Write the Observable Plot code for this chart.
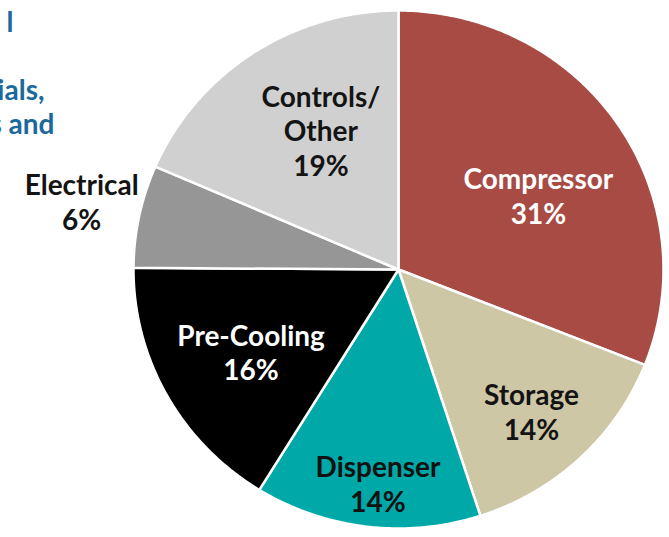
<!DOCTYPE html>
<html><head><meta charset="utf-8">
<script src="https://cdn.jsdelivr.net/npm/d3@7"></script>
<script src="https://cdn.jsdelivr.net/npm/@observablehq/plot@0.6"></script>
<style>html,body{margin:0;padding:0;background:#fff;} #chart{width:669px;height:537px;overflow:hidden;}</style>
</head><body><div id="chart"></div>
<script>
// ---- data ----
const categories = ["Compressor", "Storage", "Dispenser", "Pre-Cooling", "Electrical", "Controls/\nOther"];
const shares = [31, 14, 13.8, 16.3, 6.4, 18.5];
const percentLabels = ["31%", "14%", "14%", "16%", "6%", "19%"];
const headerFragments = ["l", "ials,", "s and"];

// ---- styling / layout ----
const sliceColors = ["#a84b45", "#cec7a6", "#00a8a8", "#000000", "#969696", "#d0d0d0"];
const labelColors = ["#ffffff", "#141414", "#111111", "#ffffff", "#141414", "#141414"];
const labelPlacement = [[0.60, 5.8], [0.743, 0.7], [0.83, -1.5], [0.641, -0.8], [1.224, 0.5], [0.612, 4.7]]; // [radius, angle offset deg]
const headerPlacement = [[13, 23], [44, 91], [54, 125]]; // [right edge, middle y] in px

const slices = categories.map((c, i) => ({category: c, share: shares[i], i}));
const arcs = d3.pie().sort(null).value(d => d.share)(slices);

const outline = arcs.flatMap(a => {
  const n = Math.max(2, Math.ceil((a.endAngle - a.startAngle) / (Math.PI / 360)));
  const pts = [{i: a.data.i, x: 0, y: 0}];
  for (let k = 0; k <= n; k++) {
    const t = a.startAngle + (a.endAngle - a.startAngle) * k / n;
    pts.push({i: a.data.i, x: Math.sin(t), y: Math.cos(t)});
  }
  return pts;
});

const labels = arcs.map(a => {
  const i = a.data.i;
  const [r, off] = labelPlacement[i];
  const t = (a.startAngle + a.endAngle) / 2 + off * Math.PI / 180;
  return {i, x: r * Math.sin(t), y: r * Math.cos(t), text: categories[i] + "\n" + percentLabels[i]};
});

const headerMarks = headerFragments.map((f, k) =>
  Plot.text([f], {
    text: d => d, frameAnchor: "top-left", dx: headerPlacement[k][0], dy: headerPlacement[k][1],
    textAnchor: "end", lineAnchor: "middle", fill: "#1b6a9b", fontSize: 28, fontWeight: 700
  })
);

const chart = Plot.plot({
  width: 669, height: 537,
  margin: 0,
  x: {domain: [-1, 1], range: [133, 663], axis: null},
  y: {domain: [-1, 1], range: [528, 10], axis: null},
  style: {fontFamily: "Lato, 'Open Sans', sans-serif", background: "white", overflow: "hidden"},
  marks: [
    Plot.line(outline, {
      x: "x", y: "y", z: "i", curve: "linear-closed",
      fill: d => sliceColors[d.i], stroke: "white", strokeWidth: 2.5, strokeLinejoin: "round"
    }),
    Plot.text(labels, {
      x: "x", y: "y", text: "text", fill: d => labelColors[d.i],
      fontSize: 28, fontWeight: 700, lineHeight: 1.23, lineAnchor: "middle"
    }),
    ...headerMarks
  ]
});
document.getElementById("chart").appendChild(chart);
</script>
</body></html>
